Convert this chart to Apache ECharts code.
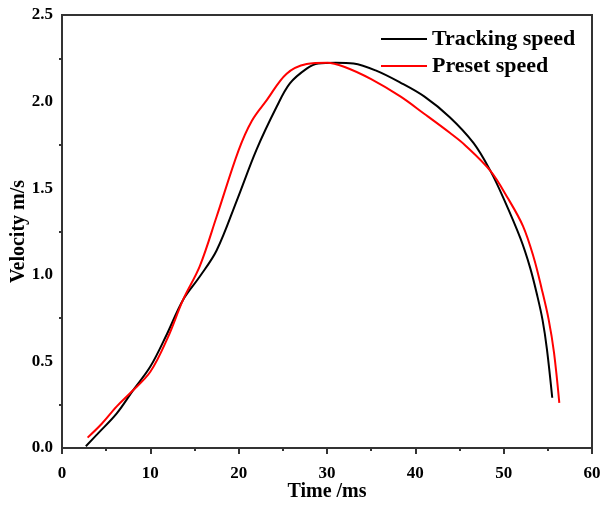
<!DOCTYPE html>
<html><head><meta charset="utf-8">
<script src="https://cdn.jsdelivr.net/npm/echarts@6/dist/echarts.min.js"></script>
<style>html,body{margin:0;padding:0;background:#fff}#c{width:603px;height:506px}</style>
</head><body><div id="c"></div>
<script>
const seriesNames = ["Tracking speed", "Preset speed"];
const trackingSpeed = [[2.7,0.01],[4,0.08],[6.2,0.2],[8,0.33],[10,0.47],[11.9,0.66],[13.7,0.855],[15.6,0.99],[17.5,1.14],[19.8,1.43],[22,1.72],[24.3,1.97],[25.8,2.105],[27.7,2.19],[29,2.22],[31,2.225],[33,2.22],[35.5,2.18],[38.3,2.11],[41,2.03],[43.9,1.91],[46.6,1.76],[48.5,1.6],[50,1.44],[51.9,1.21],[53,1.04],[53.8,0.88],[54.4,0.74],[54.9,0.57],[55.5,0.29]];
const presetSpeed = [[2.9,0.06],[4.5,0.14],[6.2,0.24],[7.7,0.316],[10,0.44],[12,0.64],[13.7,0.855],[15.6,1.05],[17.5,1.335],[20,1.72],[21.5,1.89],[23.2,2.01],[25.4,2.16],[27.7,2.217],[30,2.225],[32,2.2],[35,2.13],[38.3,2.03],[41,1.93],[43.9,1.82],[45.6,1.75],[48.5,1.6],[50.5,1.44],[52.2,1.28],[53.4,1.1],[54.3,0.92],[55.1,0.74],[55.7,0.55],[56.3,0.26]];
const xTicks = [0,10,20,30,40,50,60];
const yTicks = [0.0,0.5,1.0,1.5,2.0,2.5];

const font = '"Liberation Serif","Times New Roman",serif';
const chart = echarts.init(document.getElementById('c'), null, {renderer:'canvas'});
chart.setOption({
  animation:false,
  backgroundColor:'#fff',
  grid:{left:62,right:11,top:15,bottom:58,containLabel:false,outerBoundsMode:'none',show:true,borderColor:'#333',borderWidth:2,backgroundColor:'transparent'},
  legend:{
    orient:'vertical', left:376, top:23, itemWidth:46, itemHeight:2, itemGap:5, icon:'rect',
    textStyle:{fontFamily:font,fontWeight:'bold',fontSize:22,color:'#000'},
    data:seriesNames
  },
  xAxis:{
    type:'value', min:xTicks[0], max:xTicks[xTicks.length-1], interval:10,
    name:'Time /ms', nameLocation:'middle', nameGap:34, nameMoveOverlap:false,
    nameTextStyle:{fontFamily:font,fontWeight:'bold',fontSize:20,color:'#000'},
    axisLine:{show:true,lineStyle:{color:'#333',width:2}},
    axisTick:{show:true,inside:false,length:6,lineStyle:{color:'#333',width:2}},
    minorTick:{show:true,splitNumber:2,length:3,lineStyle:{color:'#333',width:2}},
    axisLabel:{fontFamily:font,fontWeight:'bold',fontSize:17,color:'#000',margin:17,formatter:v=>String(v)},
    splitLine:{show:false}
  },
  yAxis:{
    type:'value', min:yTicks[0], max:yTicks[yTicks.length-1], interval:0.5,
    name:'Velocity m/s', nameLocation:'middle', nameGap:33, nameRotate:90, nameMoveOverlap:false,
    nameTextStyle:{fontFamily:font,fontWeight:'bold',fontSize:20,color:'#000'},
    axisLine:{show:true,lineStyle:{color:'#333',width:2}},
    axisTick:{show:false},
    minorTick:{show:true,splitNumber:2,length:3,lineStyle:{color:'#333',width:2}},
    axisLabel:{fontFamily:font,fontWeight:'bold',fontSize:17,color:'#000',margin:9,formatter:v=>v.toFixed(1)},
    splitLine:{show:false}
  },
  series:[
    {name:seriesNames[0],type:'line',data:trackingSpeed,symbol:'none',smooth:0.35,lineStyle:{color:'#000',width:2},itemStyle:{color:'#000'}},
    {name:seriesNames[1],type:'line',data:presetSpeed,symbol:'none',smooth:0.35,lineStyle:{color:'#ff0000',width:2},itemStyle:{color:'#ff0000'}}
  ]
});
</script></body></html>
